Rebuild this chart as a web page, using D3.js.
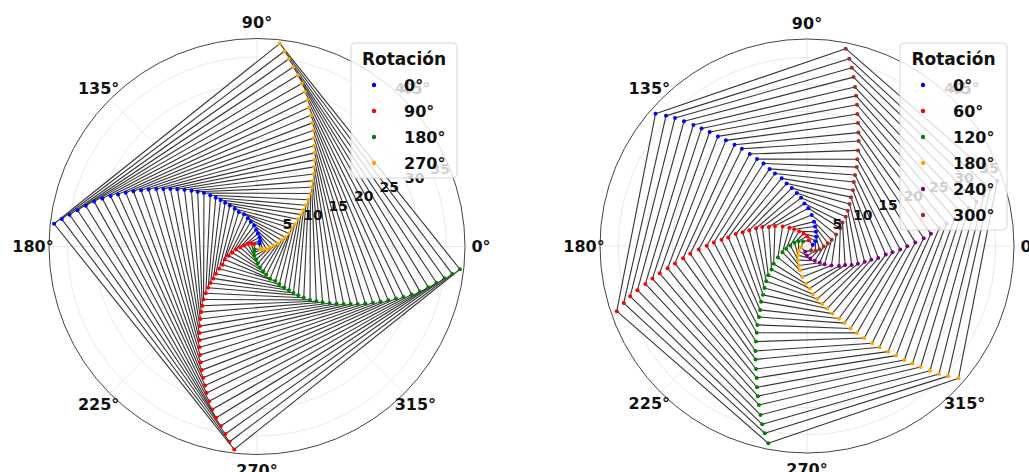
<!DOCTYPE html>
<html>
<head>
<meta charset="utf-8">
<script src="https://cdn.jsdelivr.net/npm/d3@7"></script>
<style>
  html, body { margin: 0; padding: 0; background: #fff; }
  svg { display: block; }
  text { font-family: "DejaVu Sans", sans-serif; font-weight: bold; }
</style>
</head>
<body>
<svg id="chart" width="1029" height="472"></svg>
<script>
// Radial and angular axis ticks shared by both panels
const rTicks = [5, 10, 15, 20, 25, 30, 35, 40];
const angleTicks = [0, 45, 90, 135, 180, 225, 270, 315];
const rMax = 38.4;

// Panel A: four copies of one spiral, rotated by these angles
const rotationsA = [0, 90, 180, 270];
const colorsA = ["blue", "red", "green", "orange"];
const spiralA_r = [37.7, 36.4, 35.1, 33.8, 32.5, 31.2, 29.9, 28.6, 27.4, 26.2, 25.0, 23.8, 22.6,
                   21.4, 20.3, 19.2, 18.1, 17.0, 15.9, 14.9, 13.9, 12.8, 11.8, 10.9, 10.0, 9.1,
                   8.1, 7.2, 6.4, 5.5, 4.7, 3.9, 3.1, 2.4, 1.8, 1.2, 0.7];
const spiralA_theta = [173.6, 172.0, 170.4, 168.6, 166.6, 164.6, 162.8, 161.0, 159.5, 157.7, 155.9, 154.1, 152.3,
                       150.3, 148.4, 146.4, 144.3, 142.0, 139.6, 137.3, 134.8, 132.4, 130.2, 128.1, 126.1, 123.5,
                       120.5, 118.0, 112.0, 108.0, 104.0, 98.0, 93.0, 86.0, 74.0, 62.0, 50.0];

// Panel B: six copies of one spiral, rotated by these angles
const rotationsB = [0, 60, 120, 180, 240, 300];
const colorsB = ["blue", "red", "green", "orange", "purple", "brown"];
const spiralB_r = [37.3, 35.6, 34.1, 32.5, 30.8, 29.3, 27.8, 26.2, 24.7, 23.1, 21.7, 20.1, 18.6,
                   17.3, 15.9, 14.7, 13.4, 12.2, 11.1, 10.0, 9.0, 7.9, 7.0, 5.8, 4.7, 3.9, 3.1, 2.4, 1.8, 1.1];
const spiralB_theta = [138.9, 137.3, 135.9, 134.6, 133.2, 131.9, 130.5, 129.1, 127.5, 125.6, 123.8, 121.9, 119.9,
                       117.8, 115.9, 113.8, 110.5, 108.0, 104.7, 100.9, 97.0, 93.6, 88.0, 81.4, 74.0, 67.5, 57.9, 45.0, 30.0, 12.0];

const svg = d3.select("#chart");
svg.append("rect").attr("width", 1029).attr("height", 472).attr("fill", "#fff");

function drawPanel(opts) {
  const { cx, cy, R, rotations, colors, rs, thetas, legendBox } = opts;
  const g = svg.append("g");
  const rScale = d3.scaleLinear().domain([0, rMax]).range([0, R]);
  const rad = d => d * Math.PI / 180;
  const px = (r, a) => cx + rScale(r) * Math.cos(rad(a));
  const py = (r, a) => cy - rScale(r) * Math.sin(rad(a));

  // grid
  const grid = g.append("g");
  grid.selectAll("circle.ring").data(rTicks.filter(t => t < rMax)).join("circle")
    .attr("cx", cx).attr("cy", cy).attr("r", d => rScale(d))
    .attr("fill", "none").attr("stroke", "#e3e3e3").attr("stroke-width", 0.8);
  grid.selectAll("line.spoke").data(angleTicks).join("line")
    .attr("x1", cx).attr("y1", cy)
    .attr("x2", d => px(rMax, d)).attr("y2", d => py(rMax, d))
    .attr("stroke", "#e3e3e3").attr("stroke-width", 0.8);

  // series: one point per spiral step for every rotation
  const series = rotations.map((rot, k) => ({
    rot, color: colors[k],
    pts: rs.map((r, i) => ({ r, a: thetas[i] + rot }))
  }));

  // each point is joined to the matching point of the neighbouring rotation
  const segs = [];
  series.forEach((s, k) => {
    const nxt = series[(k + 1) % series.length];
    s.pts.forEach((p, i) => segs.push([p, nxt.pts[i]]));
  });
  g.append("g").selectAll("line").data(segs).join("line")
    .attr("x1", d => px(d[0].r, d[0].a)).attr("y1", d => py(d[0].r, d[0].a))
    .attr("x2", d => px(d[1].r, d[1].a)).attr("y2", d => py(d[1].r, d[1].a))
    .attr("stroke", "#111").attr("stroke-width", 1.1).attr("stroke-opacity", 0.85);

  series.forEach(s => {
    g.append("g").selectAll("circle").data(s.pts).join("circle")
      .attr("cx", d => px(d.r, d.a)).attr("cy", d => py(d.r, d.a))
      .attr("r", 2).attr("fill", s.color);
  });

  // outer frame
  g.append("circle").attr("cx", cx).attr("cy", cy).attr("r", R)
    .attr("fill", "none").attr("stroke", "#444").attr("stroke-width", 1);

  // angular labels
  g.selectAll("text.ang").data(angleTicks).join("text")
    .attr("x", d => cx + (R + 16) * Math.cos(rad(d)))
    .attr("y", d => cy - (R + 16) * Math.sin(rad(d)))
    .attr("text-anchor", "middle").attr("dominant-baseline", "central")
    .attr("font-size", 16).attr("fill", "#111")
    .text(d => d + "°");

  // radial labels run along 20°; ticks beyond the outer ring sit at 47°
  const labelAngle = d => d > rMax ? 47 : 20;
  g.selectAll("text.rad").data(rTicks).join("text")
    .attr("x", d => px(d, labelAngle(d)) + (d > rMax ? 0 : 5))
    .attr("y", d => py(d, labelAngle(d)) + (d > rMax ? 0 : -13))
    .attr("text-anchor", "middle").attr("dominant-baseline", "central")
    .attr("font-size", 14).attr("fill", "#111")
    .text(d => d);

  // legend
  const lg = g.append("g");
  lg.append("rect")
    .attr("x", legendBox.x).attr("y", legendBox.y)
    .attr("width", legendBox.w).attr("height", 31 + rotations.length * 26)
    .attr("rx", 4).attr("fill", "#fff").attr("fill-opacity", 0.8)
    .attr("stroke", "#d8d8d8").attr("stroke-width", 1);
  lg.append("text")
    .attr("x", legendBox.x + legendBox.w / 2).attr("y", legendBox.y + 16)
    .attr("text-anchor", "middle").attr("dominant-baseline", "central")
    .attr("font-size", 17).attr("fill", "#111").text("Rotación");
  series.forEach((s, k) => {
    const yy = legendBox.y + 42 + k * 26;
    lg.append("circle").attr("cx", legendBox.x + 23).attr("cy", yy).attr("r", 2.2).attr("fill", s.color);
    lg.append("text").attr("x", legendBox.x + 53).attr("y", yy)
      .attr("dominant-baseline", "central").attr("font-size", 16).attr("fill", "#111")
      .text(s.rot + "°");
  });
}

drawPanel({ cx: 257, cy: 246.5, R: 208, rotations: rotationsA, colors: colorsA,
            rs: spiralA_r, thetas: spiralA_theta, legendBox: { x: 351, y: 43, w: 106 } });
drawPanel({ cx: 807, cy: 246, R: 207, rotations: rotationsB, colors: colorsB,
            rs: spiralB_r, thetas: spiralB_theta, legendBox: { x: 900, y: 43, w: 107 } });
</script>
</body>
</html>
